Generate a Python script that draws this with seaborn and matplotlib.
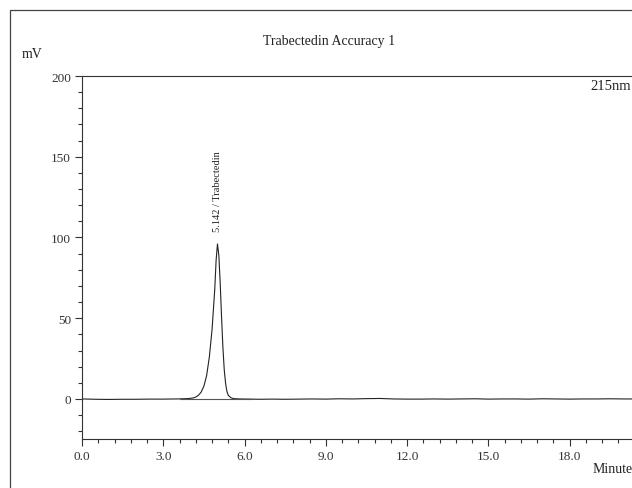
import pandas as pd
import seaborn as sns
import matplotlib.pyplot as plt
from matplotlib.patches import Rectangle
import numpy as np

# Chromatogram values (minutes, mV)
time_min = [0.0, 0.5, 1.0, 1.5, 2.0, 2.5, 3.0, 3.5, 3.9, 4.1, 4.2, 4.3, 4.4,
            4.5, 4.6, 4.7, 4.8, 4.9, 4.95, 5.0, 5.05, 5.1, 5.15, 5.2, 5.25,
            5.3, 5.35, 5.4, 5.5, 5.6, 5.8, 6.2, 6.6, 7.0, 7.5, 8.0, 8.5, 9.0,
            9.5, 10.0, 10.5, 11.0, 11.5, 12.0, 12.5, 13.0, 13.5, 14.0, 14.5,
            15.0, 15.5, 16.0, 16.5, 17.0, 17.5, 18.0, 18.5, 19.0, 19.5, 20.0,
            20.5, 21.0]
signal_mv = [0.0, -0.2, -0.3, -0.2, -0.2, -0.1, -0.1, 0.0, 0.2, 0.6, 1.2, 2.3,
             4.3, 8.0, 14.5, 26.0, 43.0, 68.0, 86.0, 96.0, 89.0, 72.0, 51.0,
             32.0, 18.0, 9.5, 4.6, 2.2, 0.7, 0.2, 0.0, -0.1, -0.2, -0.1, -0.2,
             -0.1, 0.0, -0.1, 0.1, 0.0, 0.2, 0.3, 0.0, -0.1, -0.1, 0.0, -0.1,
             0.0, 0.1, -0.1, 0.0, 0.0, -0.1, 0.1, 0.0, -0.1, 0.0, 0.0, 0.1,
             0.0, 0.0, 0.0]
peak_time = 5.0
peak_height = 96.0
peak_label = "5.142 / Trabectedin"
baseline_start, baseline_end = 3.6, 6.3

x_ticks = [0.0, 3.0, 6.0, 9.0, 12.0, 15.0, 18.0]
y_ticks = [0, 50, 100, 150, 200]

df = pd.DataFrame({"Minutes": time_min, "mV": signal_mv})

sns.set_style('ticks')
plt.rcParams['font.family'] = ['Liberation Serif', 'DejaVu Serif']

fig = plt.figure(figsize=(6.32, 4.89), dpi=100)
ax = fig.add_axes([82/632, 49/489, 569/632, 363/489])

sns.lineplot(data=df, x="Minutes", y="mV", ax=ax, color='#222222', lw=0.8)
ax.plot([baseline_start, baseline_end], [0, 0], color='#555555', lw=0.8)

ax.annotate(peak_label, xy=(peak_time, peak_height), xytext=(0, 9),
            textcoords='offset points', rotation=90, ha='center', va='bottom',
            fontsize=7.5, color='#222222')

ax.set_xlim(0, 21.0)
ax.set_ylim(-24.8, 200)
ax.set_xticks(x_ticks)
ax.set_xticklabels([f"{v:.1f}" for v in x_ticks])
ax.set_xticks(np.arange(0, 21.0, 0.6), minor=True)
ax.set_yticks(y_ticks)
ax.set_yticks(np.arange(-20, 201, 10), minor=True)
ax.set_xlabel("")
ax.set_ylabel("")

ax.tick_params(axis='both', which='major', length=5, width=0.8, labelsize=9.5,
               colors='#333333', pad=3)
ax.tick_params(axis='both', which='minor', length=3, width=0.8, colors='#333333')
for side in ['top', 'bottom', 'left', 'right']:
    ax.spines[side].set_linewidth(0.8)
    ax.spines[side].set_color('#333333')

# outer frame and header texts
fig.add_artist(Rectangle((10/632, -0.2), 1.2, 1.2 - 11/489, fill=False,
                         lw=0.9, edgecolor='#444444', transform=fig.transFigure))
fig.text(329/632, 1 - 42/489, "Trabectedin Accuracy 1", ha='center', va='center',
         fontsize=10, color='#222222')
fig.text(22/632, 1 - 55/489, "mV", ha='left', va='center', fontsize=10,
         color='#222222')
fig.text(590/632, 1 - 86/489, "215nm", ha='left', va='center', fontsize=10.5,
         color='#222222')
fig.text(593/632, 1 - 470/489, "Minute", ha='left', va='center', fontsize=10,
         color='#222222')

fig.savefig("out.png", dpi=100)
